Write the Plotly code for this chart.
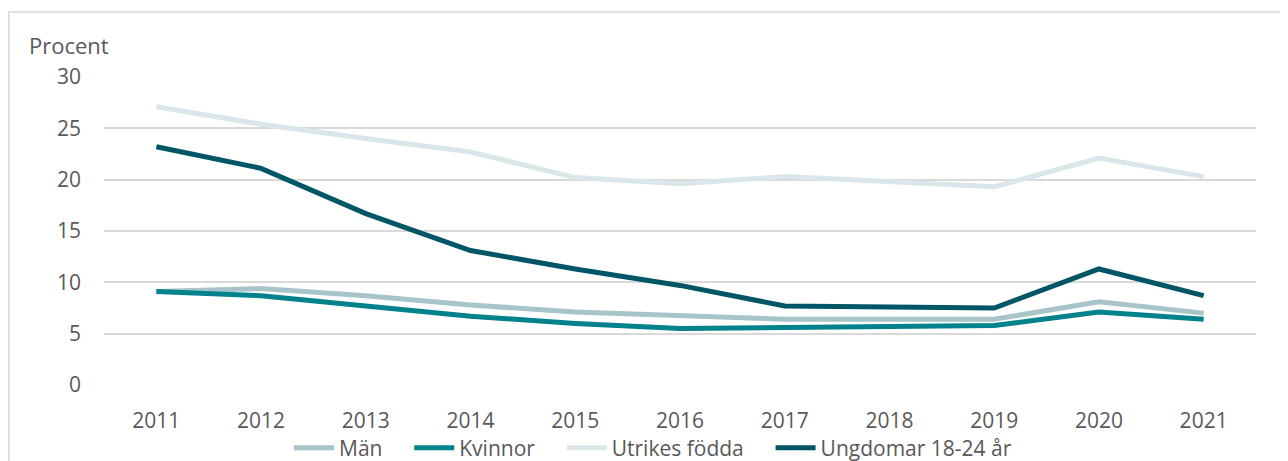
import plotly.graph_objects as go

years = ["2011", "2012", "2013", "2014", "2015", "2016", "2017", "2018", "2019", "2020", "2021"]
man = [9.1, 9.4, 8.7, 7.8, 7.1, 6.7, 6.4, 6.4, 6.4, 8.1, 7.0]
kvinnor = [9.1, 8.7, 7.7, 6.7, 6.0, 5.5, 5.6, 5.7, 5.8, 7.1, 6.4]
utrikes = [27.1, 25.4, 24.0, 22.7, 20.2, 19.6, 20.3, 19.8, 19.3, 22.1, 20.3]
ungdomar = [23.2, 21.1, 16.7, 13.1, 11.3, 9.7, 7.7, 7.6, 7.5, 11.3, 8.7]

names = ["Män", "Kvinnor", "Utrikes födda", "Ungdomar 18-24 år"]
colors = ["#A7C4C8", "#00828C", "#DAE6EA", "#005566"]
values = [man, kvinnor, utrikes, ungdomar]

PAD = "\u00a0" * 4  # extra spacing between legend entries

fig = go.Figure()
for i, (name, vals, col) in enumerate(zip(names, values, colors)):
    label = name + (PAD if i < len(names) - 1 else "")
    fig.add_trace(go.Scatter(x=years, y=vals, name=label, mode="lines",
                             line=dict(color=col, width=5)))

font_family = "Open Sans, Liberation Sans, sans-serif"
OFF = 8  # default page body margin
W, H = 1280, 453
# plot area in screen pixels: x 104..1256, y 77..385
l, t = 104 - OFF, 77 - OFF
pw, ph = 1152, 308
r = W - l - pw
b = H - t - ph

def px_x(sx):
    return (sx - OFF - l) / pw

def px_y(sy):
    return (t + ph - (sy - OFF)) / ph

fig.update_layout(
    width=W, height=H,
    margin=dict(l=l, r=r, t=t, b=b, autoexpand=False),
    paper_bgcolor="white", plot_bgcolor="white",
    font=dict(family=font_family, size=21, color="#595959"),
    showlegend=True,
    legend=dict(orientation="h", x=px_x(653), xanchor="center", y=px_y(448), yanchor="middle",
                font=dict(size=21, color="#595959"), itemwidth=40, tracegroupgap=0,
                bgcolor="rgba(0,0,0,0)"),
    xaxis=dict(type="category", range=[-0.5, 10.5], showgrid=False, zeroline=False, showline=False,
               ticks="", tickfont=dict(size=21, color="#595959"), ticklabelstandoff=21),
    yaxis=dict(range=[0, 30], dtick=5, showgrid=True, gridcolor="#D9D9D9", gridwidth=1.5,
               zeroline=False, showline=False, ticks="", ticklabelstandoff=22,
               tickfont=dict(size=21, color="#595959")),
    annotations=[dict(text="Procent", xref="paper", yref="paper", x=px_x(27), y=px_y(45),
                      xanchor="left", yanchor="middle", showarrow=False,
                      font=dict(size=22, color="#595959"))],
    shapes=[dict(type="rect", xref="paper", yref="paper",
                 x0=px_x(8.8), x1=px_x(1287), y0=px_y(475), y1=px_y(12),
                 line=dict(color="#D9D9D9", width=1.5), layer="below")],
)

fig.write_html("out.html")
